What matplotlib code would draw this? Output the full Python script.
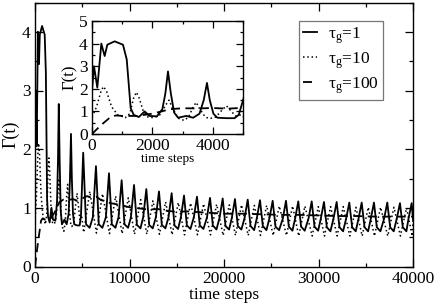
import matplotlib
matplotlib.use("Agg")
import matplotlib.pyplot as plt
from matplotlib.ticker import MultipleLocator

plt.rcParams['font.family'] = ['Liberation Serif', 'DejaVu Serif']
plt.rcParams['mathtext.fontset'] = 'custom'
plt.rcParams['mathtext.rm'] = 'Liberation Serif'
plt.rcParams['mathtext.it'] = 'Liberation Serif:italic'

# ---------------- data ----------------
labels = ['τ$_{\\rm g}$=1', 'τ$_{\\rm g}$=10', 'τ$_{\\rm g}$=100']

solid_t = [0, 66, 176, 309, 419, 507, 750, 1026, 1150, 1280, 1380, 1550, 1744, 1900, 2150, 2330, 2430, 2516,
           2610, 2720, 2850, 3122, 3350, 3560, 3700, 3807, 3900, 4020, 4150, 4450, 4723, 4860,
           5100, 5400, 5780, 6120, 6450, 6750, 7130, 7500, 7830, 8130, 8510, 8840, 9170, 9470, 9850,
           10150, 10480, 10780, 11160, 11450, 11780, 12080, 12460, 12790, 13120, 13420, 13800,
           14130, 14460, 14760, 15140, 15440, 15770, 16070, 16450, 16810, 17140, 17440, 17820,
           18190, 18520, 18820, 19200, 19530, 19860, 20160, 20540, 20830, 21160, 21460, 21840,
           22180, 22510, 22810, 23190, 23480, 23810, 24110, 24490, 24820, 25150, 25450, 25830,
           26230, 26560, 26860, 27240, 27530, 27860, 28160, 28540, 28950, 29280, 29580, 29960,
           30250, 30580, 30880, 31260, 31590, 31920, 32220, 32600, 32930, 33260, 33560, 33940,
           34240, 34570, 34870, 35250, 35540, 35870, 36170, 36550, 36950, 37280, 37580, 37960,
           38290, 38620, 38920, 39300, 39530, 39860, 40000]
solid_v = [1.9, 3.0, 2.05, 4.0, 3.45, 3.95, 4.1, 3.95, 3.3, 1.15, 0.85, 0.75, 1.0, 0.8, 0.78, 1.1, 1.8, 2.77,
           1.8, 0.95, 0.72, 0.8, 0.72, 0.9, 1.5, 2.26, 1.5, 0.9, 0.72, 0.7, 0.7, 0.85,
           1.94, 0.72, 0.66, 0.84, 1.71, 0.72, 0.66, 0.84, 1.59, 0.72, 0.66, 0.84, 1.47, 0.72, 0.66,
           0.84, 1.39, 0.71, 0.65, 0.84, 1.32, 0.71, 0.65, 0.84, 1.28, 0.71, 0.65,
           0.84, 1.25, 0.70, 0.64, 0.84, 1.21, 0.70, 0.64, 0.84, 1.19, 0.70, 0.64,
           0.83, 1.17, 0.70, 0.63, 0.83, 1.16, 0.69, 0.63, 0.83, 1.15, 0.69, 0.63,
           0.83, 1.14, 0.69, 0.62, 0.83, 1.13, 0.69, 0.62, 0.83, 1.12, 0.68, 0.62,
           0.82, 1.12, 0.68, 0.61, 0.82, 1.11, 0.68, 0.61, 0.82, 1.11, 0.68, 0.61,
           0.82, 1.10, 0.67, 0.60, 0.82, 1.10, 0.67, 0.60, 0.82, 1.09, 0.67, 0.60,
           0.82, 1.09, 0.67, 0.60, 0.82, 1.09, 0.67, 0.60, 0.82, 1.09, 0.67, 0.60,
           0.82, 1.08, 0.67, 0.60, 0.82, 1.08, 0.80]

dot_t = [0, 150, 300, 380, 480, 650, 850, 1100, 1250, 1380, 1470, 1560, 1700, 1850, 2050, 2250, 2450, 2550,
         2650, 2850, 3050, 3200, 3350, 3450, 3550, 3750, 3900, 4100, 4300, 4450, 4550, 4750, 4950,
         5150, 5800, 6500, 7150, 7880, 8530, 9220, 9870, 10530, 11180, 11830, 12480, 13170, 13820,
         14510, 15160, 15820, 16470, 17190, 17840, 18570, 19220, 19910, 20560, 21210, 21860, 22560, 23210,
         23860, 24510, 25200, 25850, 26610, 27260, 27910, 28560, 29330, 29980, 30630, 31280, 31970, 32620,
         33310, 33960, 34620, 35270, 35920, 36570, 37330, 37980, 38670, 39320, 39910, 40000]
dot_v = [0.75, 1.2, 1.9, 2.1, 1.9, 1.2, 0.85, 0.72, 0.9, 1.6, 1.85, 1.6, 1.0, 0.75, 0.72, 0.85, 1.3, 1.5,
         1.2, 0.7, 0.6, 0.75, 1.2, 1.4, 1.15, 0.75, 0.68, 0.75, 1.05, 1.25, 1.1, 0.8, 0.85,
         0.58, 1.28, 0.57, 1.24, 0.56, 1.2, 0.56, 1.17, 0.55, 1.14, 0.55, 1.12, 0.55, 1.1,
         0.54, 1.09, 0.54, 1.08, 0.54, 1.07, 0.54, 1.06, 0.53, 1.05, 0.53, 1.05, 0.53, 1.04,
         0.53, 1.04, 0.53, 1.03, 0.53, 1.03, 0.52, 1.03, 0.52, 1.02, 0.52, 1.02, 0.52, 1.02,
         0.52, 1.01, 0.52, 1.01, 0.52, 1.01, 0.52, 1.01, 0.52, 1.0, 0.52, 0.8]

dash_t = [0, 150, 350, 640, 800, 1000, 1500, 2000, 2300, 2600, 3000, 3500, 4000, 4500, 5000, 5500, 6000,
          6500, 7000, 7500, 8000, 9000, 10000, 11000, 12000, 13000, 14000, 15000, 16000, 18000, 20000,
          22000, 24000, 26000, 28000, 30000, 32000, 34000, 36000, 38000, 40000]
dash_v = [0, 0.2, 0.45, 0.78, 0.82, 0.8, 0.8, 0.9, 1.0, 1.1, 1.14, 1.13, 1.15, 1.12, 1.16, 1.2, 1.17,
          1.19, 1.13, 1.11, 1.08, 1.05, 1.01, 0.99, 0.97, 0.98, 0.95, 0.93, 0.94, 0.92, 0.9,
          0.9, 0.89, 0.88, 0.88, 0.87, 0.86, 0.86, 0.85, 0.85, 0.85]

main_xticks = [0, 10000, 20000, 30000, 40000]
main_yticks = [0, 1, 2, 3, 4]
inset_xticks = [0, 2000, 4000]
inset_yticks = [0, 1, 2, 3, 4, 5]

# ---------------- figure ----------------
W, H = 436, 303
fig = plt.figure(figsize=(W / 100, H / 100), dpi=100)

styles = [dict(color='black', lw=1.3, ls='-'),
          dict(color='black', lw=1.1, ls=(0, (1, 1.8))),
          dict(color='black', lw=1.3, ls=(0, (5, 3)))]
series = [(solid_t, solid_v), (dot_t, dot_v), (dash_t, dash_v)]


def style_axes(ax, major, minor):
    ax.tick_params(which='both', direction='in', top=True, right=True, labelsize=12.5,
                   width=0.9, pad=3)
    ax.tick_params(which='major', length=major)
    ax.tick_params(which='minor', length=minor)
    for s in ax.spines.values():
        s.set_linewidth(1.0)


ax = fig.add_axes([35 / W, 1 - 266.5 / H, 378 / W, 264 / H])
lines = []
for (t, v), st, lab in zip(series, styles, labels):
    ln, = ax.plot(t, v, label=lab, **st)
    lines.append(ln)
ax.set_xlim(0, 40000)
ax.set_ylim(0, 4.5)
ax.set_xticks(main_xticks)
ax.set_yticks(main_yticks)
ax.xaxis.set_minor_locator(MultipleLocator(5000))
ax.yaxis.set_minor_locator(MultipleLocator(0.5))
style_axes(ax, 6, 3)
ax.set_xlabel('time steps', fontsize=12.5, labelpad=0)
ax.set_ylabel('Γ(t)', fontsize=13, labelpad=2)

leg = fig.legend(handles=lines, labels=labels, loc='upper left',
                 bbox_to_anchor=(299 / W, 1 - 21 / H), bbox_transform=fig.transFigure,
                 borderaxespad=0, fontsize=12.5, frameon=True, fancybox=False,
                 handlelength=0.8, handletextpad=0.6, labelspacing=0.25,
                 borderpad=0.25)
leg.get_frame().set_edgecolor('#555555')
leg.get_frame().set_linewidth(0.9)

ins = fig.add_axes([92 / W, 1 - 134 / H, 151 / W, 113 / H])
for (t, v), st in zip(series, styles):
    ins.plot(t, v, **st)
ins.set_xlim(0, 5000)
ins.set_ylim(0, 5)
ins.set_xticks(inset_xticks)
ins.set_yticks(inset_yticks)
ins.xaxis.set_minor_locator(MultipleLocator(1000))
ins.yaxis.set_minor_locator(MultipleLocator(0.5))
style_axes(ins, 5, 2.5)
ins.set_xlabel('time steps', fontsize=9.5, labelpad=-1)
ins.set_ylabel('Γ(t)', fontsize=12, labelpad=1)

fig.savefig('out.png', dpi=100)
